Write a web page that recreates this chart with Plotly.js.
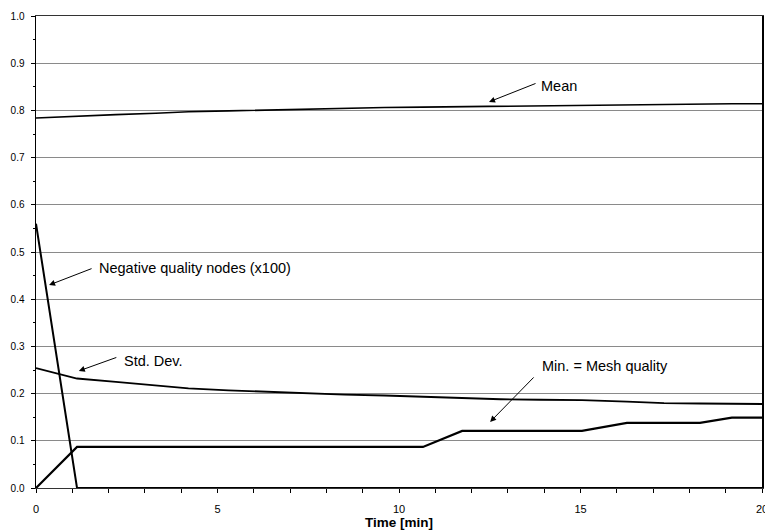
<!DOCTYPE html>
<html>
<head>
<meta charset="utf-8">
<script src="https://cdn.plot.ly/plotly-3.0.1.min.js"></script>
<style>html,body{margin:0;padding:0;background:#fff;}#chart{width:765px;height:531px;}</style>
</head>
<body>
<div id="chart"></div>
<script>
// Time samples [min]
const time = [0, 1.13, 2.2, 3.3, 4.2, 5.3, 6.3, 7.4, 8.5, 9.6, 10.66, 11.74, 12.8, 13.9, 15.04, 16.28, 17.3, 18.29, 19.17, 20];
// Series
const meanQ = [0.784, 0.788, 0.791, 0.794, 0.797, 0.799, 0.801, 0.803, 0.804, 0.806, 0.807, 0.808, 0.809, 0.810, 0.811, 0.812, 0.813, 0.814, 0.814, 0.814];
const stdDev = [0.254, 0.232, 0.225, 0.217, 0.211, 0.207, 0.204, 0.201, 0.198, 0.196, 0.193, 0.190, 0.188, 0.187, 0.186, 0.183, 0.180, 0.179, 0.179, 0.178];
const minQ = [0, 0.087, 0.087, 0.087, 0.087, 0.087, 0.087, 0.087, 0.087, 0.087, 0.087, 0.121, 0.121, 0.121, 0.121, 0.138, 0.138, 0.138, 0.149, 0.149];
const negNodes = [0.56, 0, 0, 0, 0, 0, 0, 0, 0, 0, 0, 0, 0, 0, 0, 0, 0, 0, 0, 0];
// Tick labels
const xTicks = [0, 5, 10, 15, 20];
const yTicks = [0, 0.1, 0.2, 0.3, 0.4, 0.5, 0.6, 0.7, 0.8, 0.9, 1.0];
const yTickText = yTicks.map(v => v.toFixed(1));
// Labels
const labels = {
  mean: "Mean",
  neg: "Negative quality nodes (x100)",
  std: "Std. Dev.",
  min: "Min. = Mesh quality",
  xTitle: "Time [min]"
};

const lineStyle = (w) => ({color: '#000', width: w});
const traces = [
  {x: time, y: meanQ, mode: 'lines', line: lineStyle(1.6), hoverinfo: 'skip'},
  {x: time, y: stdDev, mode: 'lines', line: lineStyle(1.8), hoverinfo: 'skip'},
  {x: time, y: minQ, mode: 'lines', line: lineStyle(2.2), hoverinfo: 'skip'},
  {x: time, y: negNodes, mode: 'lines', line: lineStyle(2.0), hoverinfo: 'skip'}
];

const font = {family: 'Liberation Sans, Arial, sans-serif', color: '#000'};
function arrow(x, y, ax, ay) {
  return {x: x, y: y, ax: ax, ay: ay, xref: 'x', yref: 'y', text: '', showarrow: true,
    arrowhead: 2, arrowsize: 1.2, arrowwidth: 1, arrowcolor: '#000'};
}
function label(x, y, t) {
  return {x: x, y: y, xref: 'x', yref: 'y', text: t, showarrow: false, xanchor: 'left', yanchor: 'middle',
    font: Object.assign({}, font, {size: 14.5})};
}

const layout = {
  width: 765, height: 531,
  margin: {l: 36, r: 3, t: 16, b: 43},
  paper_bgcolor: '#fff', plot_bgcolor: '#fff',
  showlegend: false,
  font: Object.assign({}, font, {size: 10}),
  xaxis: {
    range: [0, 20], tickvals: xTicks, ticktext: xTicks.map(String),
    showgrid: false, zeroline: false, showline: true, linecolor: '#333', linewidth: 1, mirror: true,
    ticks: 'outside', ticklen: 4, tickcolor: '#000', ticklabelstandoff: 7, ticklabeloverflow: 'allow',
    minor: {dtick: 1, ticks: 'outside', ticklen: 4, tickcolor: '#000', showgrid: false},
    tickfont: Object.assign({}, font, {size: 11}),
    title: {text: labels.xTitle, font: Object.assign({}, font, {size: 13.5, weight: 'bold'}), standoff: 3}
  },
  yaxis: {
    range: [0, 1.0], tickvals: yTicks, ticktext: yTickText,
    showgrid: true, gridcolor: '#8a8a8a', gridwidth: 1, zeroline: false,
    showline: true, linecolor: '#000', linewidth: 1.5, mirror: true,
    ticks: 'outside', ticklen: 4, tickcolor: '#000', ticklabelstandoff: 4,
    minor: {dtick: 0.05, ticks: 'outside', ticklen: 2, tickcolor: '#000', showgrid: false},
    tickfont: Object.assign({}, font, {size: 10})
  },
  annotations: [
    arrow(12.48, 0.818, 48, -19), label(13.85, 0.852, labels.mean),
    arrow(0.36, 0.430, 44, -17), label(1.68, 0.466, labels.neg),
    arrow(1.18, 0.248, 39, -14), label(2.37, 0.269, labels.std),
    arrow(12.51, 0.140, 45, -46), label(13.88, 0.258, labels.min)
  ]
};

Plotly.newPlot('chart', traces, layout, {staticPlot: true, displayModeBar: false});
</script>
</body>
</html>
